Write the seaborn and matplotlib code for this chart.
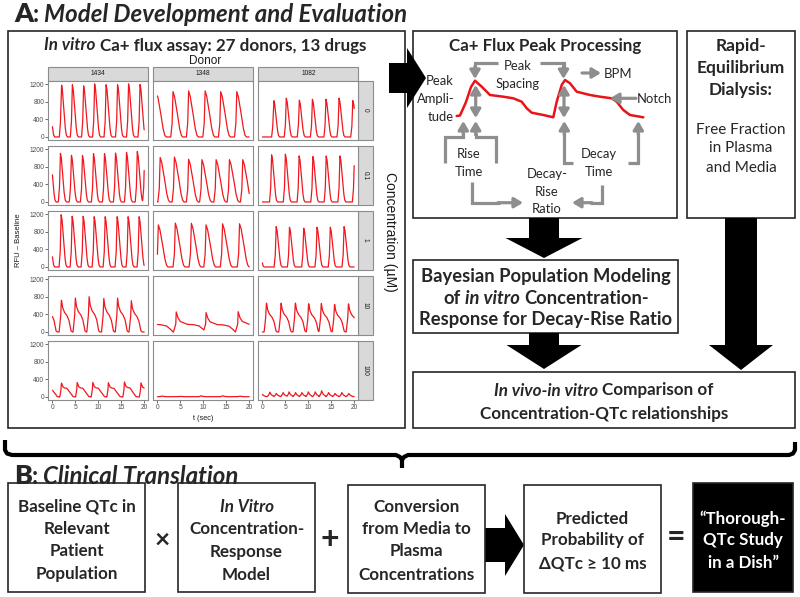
import numpy as np
import pandas as pd
import seaborn as sns
import matplotlib
matplotlib.use("Agg")
import matplotlib.pyplot as plt
from matplotlib.patches import Rectangle, FancyArrow

# ---------------- data ----------------
donors = ["1434", "1348", "1082"]
concs = ["0", "0.1", "1", "10", "100"]

# peak times (sec) of each beat, per donor (1434, 1348, 1082), one list per concentration
peak_t_0 = [[-0.8, 1.96, 4.35, 6.8, 9.2, 11.7, 14.2, 16.6, 19.1],
            [-0.2, 3.4, 6.8, 10.4, 13.8, 17.3],
            [2.46, 5.2, 8.04, 10.9, 13.85, 16.7, 19.7]]
peak_t_01 = [[-0.5, 1.74, 4.13, 6.55, 8.95, 11.35, 13.75, 16.15, 18.5, 20.1],
             [0.6, 3.7, 6.8, 9.7, 12.8, 15.7, 18.6],
             [2.0, 5.0, 8.0, 11.0, 13.9, 16.9, 20.05]]
peak_t_1 = [[-0.8, 1.9, 4.3, 6.7, 9.1, 11.5, 14.1, 16.5, 18.9],
            [0.2, 3.9, 7.4, 10.6, 14.2, 17.9],
            [-0.95, 3.0, 5.9, 9.0, 11.9, 14.8, 17.8]]
peak_t_10 = [[-1.3, 1.96, 5.0, 8.0, 11.2, 14.2, 17.2],
             [-3.0, 4.1, 10.6, 17.6],
             [0.87, 4.06, 7.17, 10.07, 12.83, 15.72, 18.76]]
peak_t_100 = [[-1.5, 1.96, 5.4, 8.8, 12.2, 15.7, 19.3],
              [1.0, 5.0, 9.5, 14.2, 18.0],
              [-0.2, 1.6, 3.0, 4.5, 5.8, 7.2, 8.6, 10.0, 11.5, 12.9, 14.4, 15.8, 17.3, 18.8]]

# peak heights (RFU - baseline)
peak_h_0 = [[1170, 1200, 1185, 1160, 1205, 1185, 1185, 1205, 1190],
            [1000, 1030, 1045, 1045, 1030, 1030],
            [840, 880, 840, 855, 855, 880, 825]]
peak_h_01 = [[1120, 1110, 1070, 1055, 1095, 1095, 1110, 1125, 1145, 1100],
             [1010, 1020, 970, 960, 960, 960, 960],
             [1070, 1085, 1045, 1030, 1045, 1045, 1000]]
peak_h_1 = [[1150, 1185, 1150, 1150, 1140, 1140, 1140, 1140, 1140],
            [955, 995, 990, 955, 980, 980],
            [900, 915, 900, 880, 900, 900, 915]]
peak_h_10 = [[750, 745, 770, 800, 760, 770, 710],
             [450, 455, 440, 460],
             [675, 675, 675, 660, 660, 640, 660]]
peak_h_100 = [[330, 325, 330, 330, 325, 340, 320],
              [15, 10, 20, 20, 12],
              [70, 100, 70, 90, 105, 90, 90, 105, 105, 130, 90, 70, 90, 70]]

baseline = [[0, 0, 0], [0, 0, 0], [0, 0, 0], [0, 0, 0], [0, 6, 10]]

# beat shapes: time offset from peak (sec) -> fraction of peak height
shape_off = {"A": [-0.45, -0.2, 0.0, 0.2, 0.5, 0.8, 1.05, 1.3],
             "W": [-0.5, -0.2, 0.0, 0.35, 0.9, 1.4, 1.8, 2.1],
             "B": [-0.5, -0.15, 0.0, 0.25, 0.65, 1.2, 1.65, 2.1, 2.4],
             "C": [-0.6, -0.1, 0.0, 0.4, 0.9, 2.4, 3.6, 5.0, 5.8, 6.3],
             "E": [-0.35, -0.1, 0.0, 0.35, 0.65, 1.2, 1.9, 2.5, 2.9],
             "D": [-0.5, -0.1, 0.0, 0.35, 0.8]}
shape_frac = {"A": [0, 0.3, 1, 0.9, 0.55, 0.2, 0.04, 0],
              "W": [0, 0.3, 1, 0.88, 0.55, 0.2, 0.04, 0],
              "B": [0, 0.5, 1, 0.75, 0.6, 0.5, 0.35, 0.03, 0],
              "C": [0, 0.4, 1, 0.7, 0.52, 0.38, 0.37, 0.3, 0.15, 0.02],
              "E": [0, 0.5, 1, 0.7, 0.63, 0.6, 0.3, 0.03, 0],
              "D": [0, 0.6, 1, 0.4, 0.1]}
shape_grid = [["A", "W", "A"], ["A", "W", "A"], ["A", "W", "A"],
              ["B", "C", "B"], ["E", "D", "D"]]

# schematic peak trace in the "Peak Processing" box (pixel units)
schem_x = [456.7, 460, 466, 471, 475, 481.7, 490, 503.3, 513.3, 521.7, 526.7, 531.7, 543.3,
           553.3, 556.7, 561.7, 565, 570, 576.7, 590, 600, 611.7, 616.7, 623.3, 630, 643.3]
schem_y = [116, 115.5, 102, 87, 80.7, 86.7, 95, 96.7, 98.3, 101.7, 108.3, 112.7, 115,
           117.3, 101.7, 85, 80, 83.3, 91.7, 95, 96.7, 98.3, 101.7, 110, 115, 117.3]

peak_t = [peak_t_0, peak_t_01, peak_t_1, peak_t_10, peak_t_100]
peak_h = [peak_h_0, peak_h_01, peak_h_1, peak_h_10, peak_h_100]

t = np.round(np.arange(0, 20.0001, 0.05), 2)
frames = []
for i, conc in enumerate(concs):
    for j, donor in enumerate(donors):
        key = shape_grid[i][j]
        v = np.zeros_like(t)
        for tp, h in zip(peak_t[i][j], peak_h[i][j]):
            v = np.maximum(v, h * np.interp(t - tp, shape_off[key], shape_frac[key], left=0, right=0))
        frames.append(pd.DataFrame({"t": t, "rfu": v + baseline[i][j], "donor": donor, "conc": conc}))
traces = pd.concat(frames, ignore_index=True)

# ---------------- figure ----------------
sns.set_theme(style="white")
plt.rcParams["font.family"] = ["Lato", "DejaVu Sans"]
GG = ["Liberation Sans", "DejaVu Sans"]
GRAY = "#8E8E8E"
EDGE = "#262626"

W, H = 800, 597
fig = plt.figure(figsize=(8, 5.97), dpi=100)
bg = fig.add_axes([0, 0, 1, 1])
bg.set_xlim(0, W)
bg.set_ylim(H, 0)
bg.axis("off")
renderer = fig.canvas.get_renderer()


def px_rect(x, y, w, h):
    return [x / W, 1 - (y + h) / H, w / W, h / H]


def box(x0, y0, x1, y1, fc="none"):
    bg.add_patch(Rectangle((x0, y0), x1 - x0, y1 - y0, fc=fc, ec=EDGE, lw=1.2))


def text_width(s, **kw):
    a = bg.text(0, 0, "|" + s + "|", **kw)
    b = bg.text(0, 0, "||", **kw)
    w = a.get_window_extent(renderer).width - b.get_window_extent(renderer).width
    a.remove()
    b.remove()
    return w


def layout(parts, **common):
    items = []
    for s, st in parts:
        kw = dict(common, **st)
        lead = len(s) - len(s.lstrip(" "))
        trail = len(s) - len(s.rstrip(" "))
        sp = text_width(" ", **kw)
        items.append((s.strip(" "), kw, lead * sp, text_width(s.strip(" "), **kw), trail * sp))
    return items


def rich(x, y, parts, ha="center", **common):
    items = layout(parts, **common)
    total = sum(a + b + c for _, _, a, b, c in items)
    x0 = x - total / 2 if ha == "center" else x
    for s, kw, lead, w, trail in items:
        x0 += lead
        bg.text(x0, y, s, ha="left", va="center_baseline", **kw)
        x0 += w + trail


def fit(parts, target):
    # font size giving the line the width measured on the reference
    items = layout(parts, fontsize=10)
    return 10 * target / sum(a + b + c for _, _, a, b, c in items)


B = dict(fontweight="bold")
BI = dict(fontweight="bold", style="italic")
R = dict(fontweight="normal")

fs_title = fit([("Model Development and Evaluation", BI)], 362)
fs_titleB = fit([("Clinical Translation", BI)], 195)
fs_left = fit([("In vitro", BI), (" Ca+ flux assay: 27 donors, 13 drugs", B)], 333)
fs_peak = fit([("Ca+ Flux Peak Processing", B)], 192)
fs_rapid = fit([("Equilibrium", B)], 88)
fs_rapid_r = fit([("Free Fraction", R)], 90)
fs_bayes = fit([("Bayesian Population Modeling", B)], 250)
fs_vivo = fit([("Concentration-QTc relationships", B)], 249)
fs_bottom = np.mean([fit([("Baseline QTc in", B)], 115), fit([("Concentrations", B)], 117),
                     fit([("Probability of", B)], 106)])
fs_black = fit([("QTc Study", B)], 80)
fs_lab = np.mean([fit([("Spacing", R)], 45), fit([("Decay-", R)], 40)])

# ---------------- facet grid of traces ----------------
col_left = [48.3, 153.3, 258.3]
row_top = [80.7, 145.7, 210.7, 275.7, 340.7]
PW, PH = 100, 59

for i, conc in enumerate(concs):
    for j, donor in enumerate(donors):
        ax = fig.add_axes(px_rect(col_left[j], row_top[i], PW, PH))
        sub = traces[(traces["conc"] == conc) & (traces["donor"] == donor)]
        sns.lineplot(data=sub, x="t", y="rfu", ax=ax, color="#F0181E", lw=0.9, errorbar=None)
        ax.set_xlim(-0.9, 20.9)
        ax.set_ylim(-62, 1277)
        ax.set_xticks([0, 5, 10, 15, 20])
        ax.set_yticks([0, 400, 800, 1200])
        ax.set_xlabel("")
        ax.set_ylabel("")
        for s in ax.spines.values():
            s.set_visible(True)
            s.set_color("#8C8C8C")
            s.set_linewidth(0.8)
        ax.tick_params(length=2, width=0.6, color="#555555", labelsize=4.8,
                       labelcolor="#4D4D4D", pad=1, labelfontfamily=GG)
        ax.tick_params(axis="x", bottom=(i == 4), labelbottom=(i == 4))
        ax.tick_params(axis="y", left=(j == 0), labelleft=(j == 0))

for j, donor in enumerate(donors):
    bg.add_patch(Rectangle((col_left[j], 66.7), PW, 14, fc="#D9D9D9", ec="#8C8C8C", lw=0.8))
    bg.text(col_left[j] + PW / 2, 73.7, donor, ha="center", va="center", fontsize=4.8,
            color="#1A1A1A", family=GG)
for i, conc in enumerate(concs):
    bg.add_patch(Rectangle((358.3, row_top[i]), 14.4, PH, fc="#D9D9D9", ec="#8C8C8C", lw=0.8))
    bg.text(365.5, row_top[i] + PH / 2, conc, ha="center", va="center", fontsize=4.8,
            rotation=-90, color="#1A1A1A", family=GG)

bg.text(205, 60.5, "Donor", ha="center", va="center", fontsize=8.5, family=GG, color="#1A1A1A")
bg.text(390, 232, "Concentration (µM)", ha="center", va="center", fontsize=10,
        rotation=-90, family=GG, color="#1A1A1A")
bg.text(18, 240, "RFU – Baseline", ha="center", va="center", fontsize=5.5,
        rotation=90, family=GG, color="#1A1A1A")
bg.text(203, 418, "t (sec)", ha="center", va="center", fontsize=5.3, family=GG, color="#1A1A1A")

# ---------------- section A ----------------
rich(14, 12, [("A", dict(fontweight="heavy", fontsize=fs_title * 1.12)),
              (":", dict(fontweight="bold", fontsize=fs_title)),
              (" Model Development and Evaluation", dict(fontweight="bold", style="italic", fontsize=fs_title))],
     ha="left")

box(8, 30.7, 405, 428)
rich(205, 44, [("In vitro", BI), (" Ca+ flux assay: 27 donors, 13 drugs", B)], fontsize=fs_left * 0.97)

box(413, 30.7, 677, 218)
bg.text(545, 45, "Ca+ Flux Peak Processing", ha="center", va="center_baseline", fontsize=fs_peak, **B)

box(687, 30.7, 795, 218)
for y, s in zip([45, 67, 89], ["Rapid-", "Equilibrium", "Dialysis:"]):
    bg.text(741, y, s, ha="center", va="center_baseline", fontsize=fs_rapid, **B)
for y, s in zip([128, 147, 166], ["Free Fraction", "in Plasma", "and Media"]):
    bg.text(741, y, s, ha="center", va="center_baseline", fontsize=fs_rapid_r)

box(413, 260, 678, 333)
rich(546, 275, [("Bayesian Population Modeling", B)], fontsize=fs_bayes)
rich(546, 297, [("of ", B), ("in vitro", BI), (" Concentration-", B)], fontsize=fs_bayes)
rich(546, 318, [("Response for Decay-Rise Ratio", B)], fontsize=fs_bayes)

box(413, 372, 795, 428)
rich(604, 389, [("In vivo-in vitro", BI), (" Comparison of", B)], fontsize=fs_vivo)
rich(604, 412, [("Concentration-QTc relationships", B)], fontsize=fs_vivo)

# black block arrows
for x, y, dx, dy, w, hw, hl in [(389, 78, 37, 0, 30, 60, 19),
                                (544, 218, 0, 40, 30, 77, 20),
                                (544, 333, 0, 36, 30, 75, 24),
                                (741, 218, 0, 152, 32, 64, 25),
                                (485, 545, 39, 0, 34, 62, 19)]:
    bg.add_patch(FancyArrow(x, y, dx, dy, width=w, head_width=hw, head_length=hl,
                            length_includes_head=True, fc="black", ec="black", lw=0))

# schematic peak trace
bg.plot(schem_x, schem_y, color="#E8141A", lw=1.8, solid_joinstyle="round")


def gline(xs, ys):
    bg.plot(xs, ys, color=GRAY, lw=2.3, solid_capstyle="butt", solid_joinstyle="miter")


def garrow(x0, y0, x1, y1, both=False):
    style = "<|-|>" if both else "-|>"
    bg.annotate("", xy=(x1, y1), xytext=(x0, y0),
                arrowprops=dict(arrowstyle=style + ",head_length=0.5,head_width=0.3",
                                color=GRAY, lw=2.3, mutation_scale=10, shrinkA=0, shrinkB=0))


# peak spacing
gline([498, 475, 475], [63.3, 63.3, 68])
garrow(475, 66, 475, 79)
gline([540, 563.5, 563.5], [63.3, 63.3, 68])
garrow(563.5, 66, 563.5, 79)
garrow(582, 73, 601, 73)
# amplitude
garrow(475.7, 85, 475.7, 118, both=True)
garrow(564, 85, 564, 118, both=True)
# rise time bracket
gline([445, 445, 463.3, 463.3], [163.3, 136.7, 136.7, 133])
garrow(463.3, 135, 463.3, 121)
gline([496, 496, 475.7, 475.7], [163.3, 136.7, 136.7, 133])
garrow(475.7, 135, 475.7, 121)
# decay time bracket
gline([573, 564.3, 564.3], [163.3, 163.3, 133])
garrow(564.3, 135, 564.3, 121)
gline([628.3, 638.3, 638.3], [163.3, 163.3, 133])
garrow(638.3, 135, 638.3, 121)
# to ratio
gline([471.7, 471.7, 500], [181.7, 202.7, 202.7])
garrow(498, 202.7, 523, 202.7)
gline([601.7, 601.7, 590], [185, 202.7, 202.7])
garrow(592, 202.7, 572, 202.7)
# notch
garrow(636, 98.3, 610, 98.3)

for x, y, s, ha in [(454, 80, "Peak", "right"), (455, 98.3, "Ampli-", "right"), (454, 116, "tude", "right"),
                    (518, 65, "Peak", "center"), (518, 83, "Spacing", "center"),
                    (618, 73, "BPM", "center"), (637, 98.3, "Notch", "left"),
                    (469, 153.3, "Rise", "center"), (469, 170.7, "Time", "center"),
                    (599, 153.3, "Decay", "center"), (599, 170.7, "Time", "center"),
                    (546.7, 173.3, "Decay-", "center"), (546.7, 191, "Rise", "center"),
                    (546.7, 208.3, "Ratio", "center")]:
    bg.text(x, y, s, ha=ha, va="center_baseline", fontsize=fs_lab)

# brace
bg.plot([5, 5, 7, 12, 396, 400, 402, 402], [440, 450, 453.5, 455, 455, 457, 460, 468],
        color="black", lw=3, solid_joinstyle="round", solid_capstyle="butt")
bg.plot([402, 404, 408, 789, 793, 795, 795], [460, 457, 455, 455, 453.5, 450, 442],
        color="black", lw=3, solid_joinstyle="round", solid_capstyle="butt")

# ---------------- section B ----------------
rich(14, 474, [("B", dict(fontweight="heavy", fontsize=fs_titleB * 1.12)),
               (":", dict(fontweight="bold", fontsize=fs_titleB)),
               (" Clinical Translation", dict(fontweight="bold", style="italic", fontsize=fs_titleB))],
     ha="left")

line_y4 = [505, 527, 550, 573]
line_y3 = [517, 539, 562]

box(8, 483, 145, 592)
for y, s in zip(line_y4, ["Baseline QTc in", "Relevant", "Patient", "Population"]):
    bg.text(76.5, y, s, ha="center", va="center_baseline", fontsize=fs_bottom, **B)

box(178, 483, 315, 592)
bg.text(246.5, line_y4[0], "In Vitro", ha="center", va="center_baseline", fontsize=fs_bottom, **BI)
for y, s in zip(line_y4[1:], ["Concentration-", "Response", "Model"]):
    bg.text(246.5, y, s, ha="center", va="center_baseline", fontsize=fs_bottom, **B)

box(348, 485, 485, 593)
for y, s in zip(line_y4, ["Conversion", "from Media to", "Plasma", "Concentrations"]):
    bg.text(416.5, y, s, ha="center", va="center_baseline", fontsize=fs_bottom, **B)

box(524, 485, 661, 593)
for y, s in zip(line_y3, ["Predicted", "Probability of", "ΔQTc ≥ 10 ms"]):
    bg.text(592.5, y, s, ha="center", va="center_baseline", fontsize=fs_bottom, **B)

box(693, 483, 793, 592, fc="black")
for y, s in zip(line_y3, ["“Thorough-", "QTc Study", "in a Dish”"]):
    bg.text(743, y, s, ha="center", va="center_baseline", fontsize=fs_black, color="white", **B)

bg.text(162, 540, "×", ha="center", va="center", fontsize=19, **B)
bg.text(330, 540, "+", ha="center", va="center", fontsize=23, **B)
bg.text(676, 538, "=", ha="center", va="center", fontsize=23, **B)

fig.savefig("out.png", dpi=100)
